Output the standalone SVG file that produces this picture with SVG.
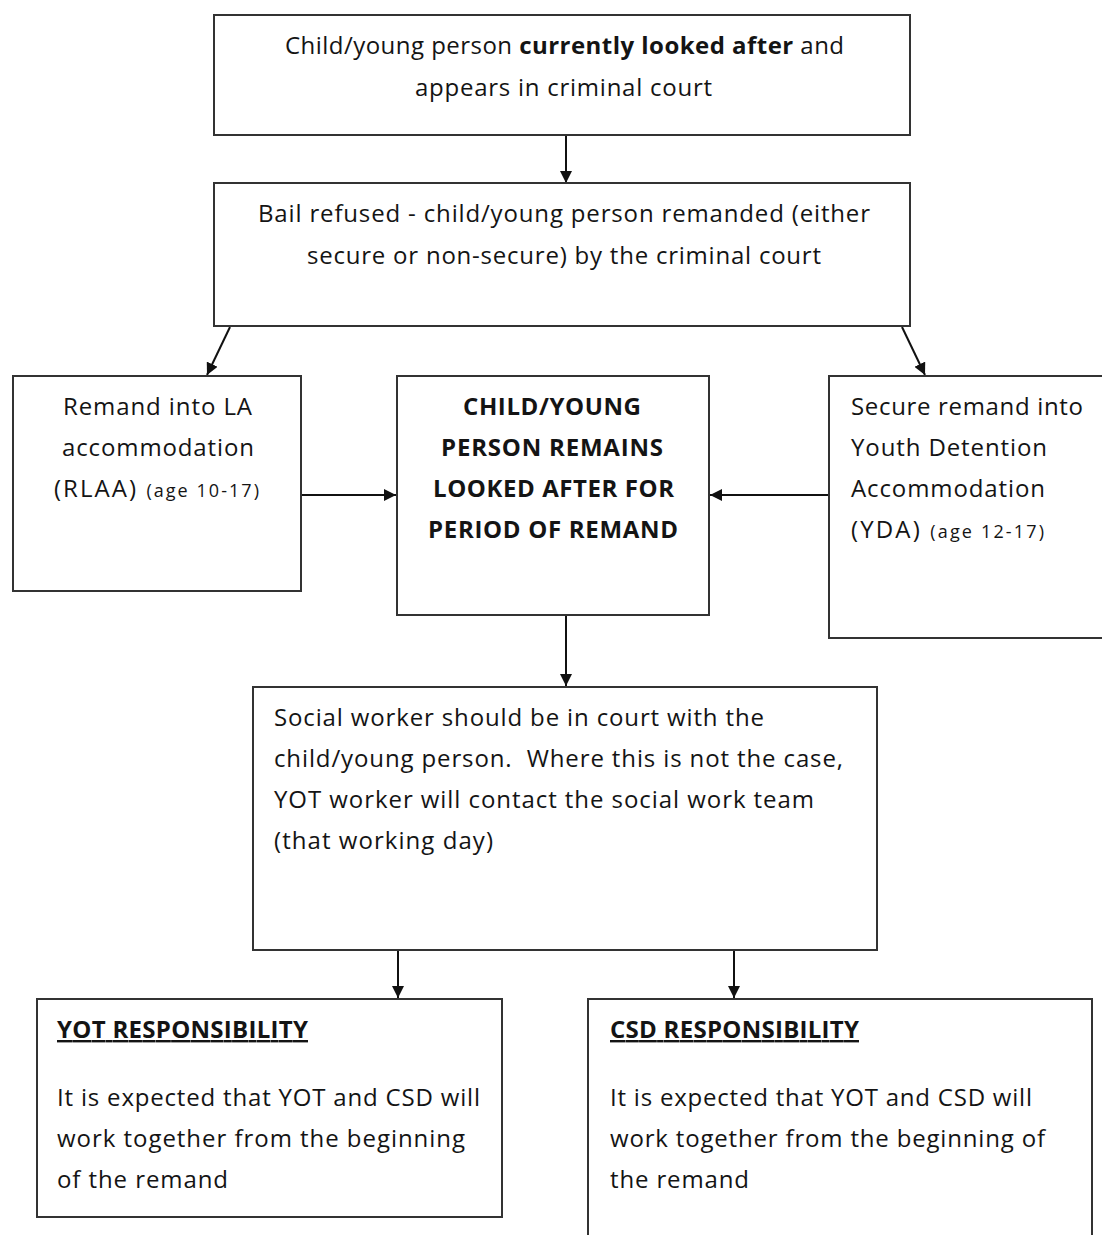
<svg xmlns="http://www.w3.org/2000/svg" width="1102" height="1235" viewBox="0 0 1102 1235">
<defs>
<marker id="ah" viewBox="0 0 10 10" refX="10" refY="5" markerWidth="12" markerHeight="12" markerUnits="userSpaceOnUse" orient="auto">
<path d="M0,0 L10,5 L0,10 z" fill="#111"/>
</marker>
</defs>
<style>
.box{fill:#fff;stroke:#333;stroke-width:2}
.t{font-family:"Open Sans","Noto Sans",sans-serif;font-size:24px;fill:#141414}
.b{font-weight:bold}
.s{font-size:18px}
.ln{stroke:#111;stroke-width:2;fill:none;marker-end:url(#ah)}
</style>
<rect width="1102" height="1235" fill="#fff"/>
<g id="connectors">
<line class="ln" x1="566" y1="135" x2="566" y2="183"/>
<line class="ln" x1="230" y1="327" x2="207" y2="375"/>
<line class="ln" x1="902" y1="327" x2="925" y2="375"/>
<line class="ln" x1="301" y1="495" x2="396" y2="495"/>
<line class="ln" x1="829" y1="495" x2="710" y2="495"/>
<line class="ln" x1="566" y1="615" x2="566" y2="686"/>
<line class="ln" x1="398" y1="950" x2="398" y2="998"/>
<line class="ln" x1="734" y1="950" x2="734" y2="998"/>
</g>
<g id="n1">
<rect class="box" x="214" y="15" width="696" height="120"/>
<text class="t" x="285" y="54" textLength="559" lengthAdjust="spacing">Child/young person <tspan class="b">currently looked after</tspan> and</text>
<text class="t" x="415" y="96" textLength="297" lengthAdjust="spacing">appears in criminal court</text>
</g>
<g id="n2">
<rect class="box" x="214" y="183" width="696" height="143"/>
<text class="t" x="258" y="222" textLength="612" lengthAdjust="spacing">Bail refused - child/young person remanded (either</text>
<text class="t" x="307" y="264" textLength="514" lengthAdjust="spacing">secure or non-secure) by the criminal court</text>
</g>
<g id="n3">
<rect class="box" x="13" y="376" width="288" height="215"/>
<text class="t" x="63" y="415" textLength="189" lengthAdjust="spacing">Remand into LA</text>
<text class="t" x="62" y="456" textLength="192" lengthAdjust="spacing">accommodation</text>
<text class="t" x="54" y="497" textLength="205" lengthAdjust="spacing">(RLAA) <tspan class="s">(age 10-17)</tspan></text>
</g>
<g id="n4">
<rect class="box" x="397" y="376" width="312" height="239"/>
<text class="t b" x="463" y="415" textLength="178" lengthAdjust="spacing">CHILD/YOUNG</text>
<text class="t b" x="441" y="456" textLength="222" lengthAdjust="spacing">PERSON REMAINS</text>
<text class="t b" x="433" y="497" textLength="241" lengthAdjust="spacing">LOOKED AFTER FOR</text>
<text class="t b" x="428" y="538" textLength="250" lengthAdjust="spacing">PERIOD OF REMAND</text>
</g>
<g id="n5">
<rect class="box" x="829" y="376" width="290" height="262"/>
<text class="t" x="851" y="415" textLength="232" lengthAdjust="spacing">Secure remand into</text>
<text class="t" x="851" y="456" textLength="196" lengthAdjust="spacing">Youth Detention</text>
<text class="t" x="851" y="497" textLength="194" lengthAdjust="spacing">Accommodation</text>
<text class="t" x="851" y="538" textLength="193" lengthAdjust="spacing">(YDA) <tspan class="s">(age 12-17)</tspan></text>
</g>
<g id="n6">
<rect class="box" x="253" y="687" width="624" height="263"/>
<text class="t" x="274" y="726" textLength="490" lengthAdjust="spacing">Social worker should be in court with the</text>
<text class="t" x="274" y="767" textLength="569" lengthAdjust="spacing">child/young person.&#160; Where this is not the case,</text>
<text class="t" x="274" y="808" textLength="540" lengthAdjust="spacing">YOT worker will contact the social work team</text>
<text class="t" x="274" y="849" textLength="219" lengthAdjust="spacing">(that working day)</text>
</g>
<g id="n7">
<rect class="box" x="37" y="999" width="465" height="218"/>
<text class="t b" x="57" y="1038" text-decoration="underline" textLength="251" lengthAdjust="spacing">YOT RESPONSIBILITY</text>
<text class="t" x="57" y="1106" textLength="423" lengthAdjust="spacing">It is expected that YOT and CSD will</text>
<text class="t" x="57" y="1147" textLength="408" lengthAdjust="spacing">work together from the beginning</text>
<text class="t" x="57" y="1188" textLength="171" lengthAdjust="spacing">of the remand</text>
</g>
<g id="n8">
<rect class="box" x="588" y="999" width="504" height="260"/>
<text class="t b" x="610" y="1038" text-decoration="underline" textLength="249" lengthAdjust="spacing">CSD RESPONSIBILITY</text>
<text class="t" x="610" y="1106" textLength="422" lengthAdjust="spacing">It is expected that YOT and CSD will</text>
<text class="t" x="610" y="1147" textLength="435" lengthAdjust="spacing">work together from the beginning of</text>
<text class="t" x="610" y="1188" textLength="139" lengthAdjust="spacing">the remand</text>
</g>
</svg>
